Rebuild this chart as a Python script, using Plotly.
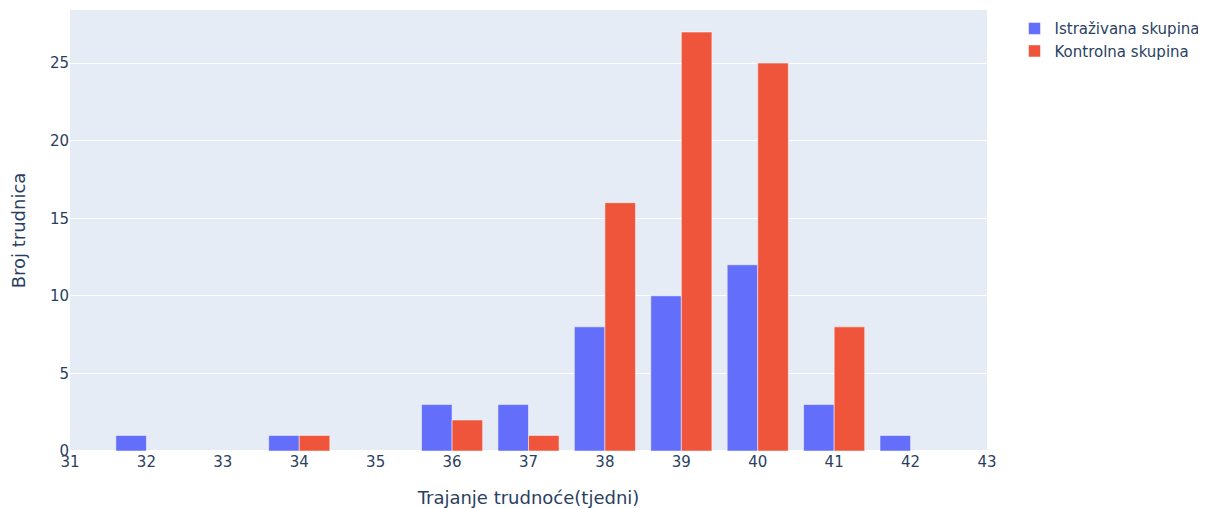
import plotly.graph_objects as go

weeks = [32, 33, 34, 35, 36, 37, 38, 39, 40, 41, 42]
istrazivana = [1, 0, 1, 0, 3, 3, 8, 10, 12, 3, 1]
kontrolna = [0, 0, 1, 0, 2, 1, 16, 27, 25, 8, 0]

fig = go.Figure()
fig.add_trace(go.Bar(x=weeks, y=istrazivana, name="Istraživana skupina",
                     marker=dict(color="#636efa", line=dict(color="white", width=0.5))))
fig.add_trace(go.Bar(x=weeks, y=kontrolna, name="Kontrolna skupina",
                     marker=dict(color="#EF553B", line=dict(color="white", width=0.5))))

fig.update_layout(
    width=1198, height=500,
    margin=dict(l=62, r=219, t=2, b=57),
    barmode="group",
    font=dict(family="DejaVu Sans, Verdana, sans-serif", size=15, color="#2a3f5f"),
    legend=dict(font=dict(size=15), tracegroupgap=0, x=1.03, y=0.995),
    xaxis=dict(title=dict(text="Trajanje trudnoće(tjedni)", font=dict(size=18), standoff=21),
               range=[31, 43], dtick=1, tick0=31, showgrid=False),
    yaxis=dict(title=dict(text="Broj trudnica", font=dict(size=18), standoff=24)),
)
fig.write_html("out.html")
